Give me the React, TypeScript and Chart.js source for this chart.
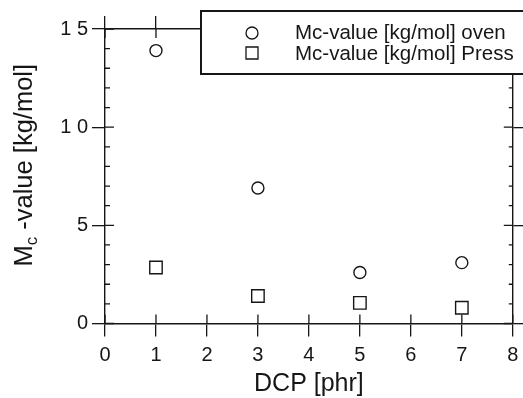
import React, { useEffect, useRef } from 'react';
import { Chart, registerables } from 'chart.js';

Chart.register(...registerables);

// ---- data ----
const dcp = [1, 3, 5, 7];
const mcOven = [13.9, 6.9, 2.6, 3.1];
const mcPress = [2.85, 1.4, 1.05, 0.8];
const seriesLabels = ['Mc-value [kg/mol] oven', 'Mc-value [kg/mol] Press'];
const xTitle = 'DCP [phr]';
const yTitleMain = 'M';
const yTitleSub = 'c';
const yTitleRest = ' -value [kg/mol]';
const xRange = [0, 8];
const yRange = [0, 15];
const xStep = 1;
const yStep = 5;
const yMinorStep = 1;

const INK = '#161616';
const FONT = '"Liberation Sans", Arial, Helvetica, sans-serif';

const framePlugin = {
  id: 'frameExtras',
  afterDraw(chart: any) {
    const ctx = chart.ctx as CanvasRenderingContext2D;
    const { left, right, top, bottom } = chart.chartArea;
    const x = chart.scales.x;
    const y = chart.scales.y;
    ctx.save();
    ctx.strokeStyle = INK;
    ctx.lineWidth = 1.3;
    ctx.beginPath();
    // inner parts of major x ticks (bottom and top)
    for (const t of x.ticks) {
      const px = x.getPixelForValue(t.value);
      ctx.moveTo(px, bottom);
      ctx.lineTo(px, bottom - 9);
      ctx.moveTo(px, top);
      ctx.lineTo(px, top + 9);
    }
    // y ticks: major crossing, minor inside
    for (let v = yRange[0]; v <= yRange[1] + 1e-9; v += yMinorStep) {
      const py = y.getPixelForValue(v);
      const major = Math.abs(v / yStep - Math.round(v / yStep)) < 1e-9;
      ctx.moveTo(left, py);
      ctx.lineTo(left + (major ? 9 : 5), py);
      ctx.moveTo(right, py);
      ctx.lineTo(right - (major ? 9 : 4), py);
    }
    ctx.stroke();

    // y title with subscript
    ctx.fillStyle = INK;
    const cy = (top + bottom) / 2 - 11;
    ctx.translate(32, cy);
    ctx.rotate(-Math.PI / 2);
    ctx.textBaseline = 'alphabetic';
    ctx.textAlign = 'left';
    const bigFont = `25.5px ${FONT}`;
    const subFont = `17px ${FONT}`;
    ctx.font = bigFont;
    const wM = ctx.measureText(yTitleMain).width;
    const wRest = ctx.measureText(yTitleRest).width;
    ctx.font = subFont;
    const wSub = ctx.measureText(yTitleSub).width;
    const total = wM + wSub + wRest;
    let sx = -total / 2;
    ctx.font = bigFont;
    ctx.fillText(yTitleMain, sx, 0);
    sx += wM;
    ctx.font = subFont;
    ctx.fillText(yTitleSub, sx, 5);
    sx += wSub;
    ctx.font = bigFont;
    ctx.fillText(yTitleRest, sx, 0);
    ctx.restore();

    // legend box
    ctx.save();
    const bx = 201, by = 11, bw = 340, bh = 63;
    ctx.fillStyle = '#ffffff';
    ctx.fillRect(bx, by, bw, bh);
    ctx.strokeStyle = INK;
    ctx.lineWidth = 2;
    ctx.strokeRect(bx, by, bw, bh);
    ctx.lineWidth = 1.3;
    ctx.fillStyle = INK;
    ctx.font = `20.5px ${FONT}`;
    ctx.textAlign = 'left';
    ctx.textBaseline = 'alphabetic';
    const rows = [
      { my: 33, base: 39 },
      { my: 53, base: 60 },
    ];
    chart.data.datasets.forEach((ds: any, i: number) => {
      const r = rows[i];
      ctx.beginPath();
      if (ds.pointStyle === 'rect') {
        ctx.rect(252 - 6, r.my - 6, 12, 12);
      } else {
        ctx.arc(252, r.my, 6, 0, Math.PI * 2);
      }
      ctx.stroke();
      ctx.fillText(ds.label, 295, r.base);
    });
    ctx.restore();
  },
};

export default function App() {
  const ref = useRef<HTMLCanvasElement>(null);
  useEffect(() => {
    const tickFont = { family: FONT, size: 20 };
    const gridCommon = {
      drawOnChartArea: false,
      drawTicks: true,
      tickLength: 13,
      color: INK,
      lineWidth: 1.3,
    };
    const border = { display: true, color: INK, width: 1.4 };
    const chart = new Chart(ref.current as HTMLCanvasElement, {
      type: 'scatter',
      data: {
        datasets: [
          {
            label: seriesLabels[0],
            data: dcp.map((v, i) => ({ x: v, y: mcOven[i] })),
            pointStyle: 'circle',
            pointRadius: 6,
            borderColor: INK,
            backgroundColor: 'rgba(255,255,255,0)',
            borderWidth: 1.4,
          },
          {
            label: seriesLabels[1],
            data: dcp.map((v, i) => ({ x: v, y: mcPress[i] })),
            pointStyle: 'rect',
            pointRadius: 8.8,
            borderColor: INK,
            backgroundColor: 'rgba(255,255,255,0)',
            borderWidth: 1.4,
          },
        ],
      },
      options: {
        responsive: false,
        animation: false,
        devicePixelRatio: 1,
        layout: { padding: 0 },
        plugins: { legend: { display: false }, tooltip: { enabled: false } },
        scales: {
          x: {
            type: 'linear',
            position: 'bottom',
            min: xRange[0],
            max: xRange[1],
            ticks: { stepSize: xStep, padding: 7, color: INK, font: tickFont, maxRotation: 0 },
            grid: gridCommon,
            border,
            title: {
              display: true,
              text: xTitle,
              color: INK,
              font: { family: FONT, size: 25, lineHeight: 1.1 },
              padding: { top: 0, bottom: 0 },
            },
            afterFit: (s: any) => {
              s.height = 74.5;
              s.paddingLeft = 0;
              s.paddingRight = 0;
            },
          },
          x2: {
            type: 'linear',
            position: 'top',
            min: xRange[0],
            max: xRange[1],
            ticks: { stepSize: xStep, display: false },
            grid: gridCommon,
            border,
            afterFit: (s: any) => {
              s.height = 29;
              s.paddingLeft = 0;
              s.paddingRight = 0;
            },
          },
          y: {
            type: 'linear',
            position: 'left',
            min: yRange[0],
            max: yRange[1],
            ticks: {
              stepSize: yStep,
              padding: 4,
              color: INK,
              font: tickFont,
              callback: (v: any) => String(v).split('').join(' '),
            },
            grid: gridCommon,
            border,
            afterFit: (s: any) => {
              s.width = 105;
            },
          },
          y2: {
            type: 'linear',
            position: 'right',
            min: yRange[0],
            max: yRange[1],
            ticks: { stepSize: yStep, display: false },
            grid: gridCommon,
            border,
            afterFit: (s: any) => {
              s.width = 8.5;
            },
          },
        },
      },
      plugins: [framePlugin],
    } as any);
    return () => chart.destroy();
  }, []);
  return (
    <div style={{ position: 'fixed', left: 0, top: 0, width: 523, height: 398, background: '#fff' }}>
      <canvas ref={ref} width={523} height={398} style={{ display: 'block' }} />
    </div>
  );
}
